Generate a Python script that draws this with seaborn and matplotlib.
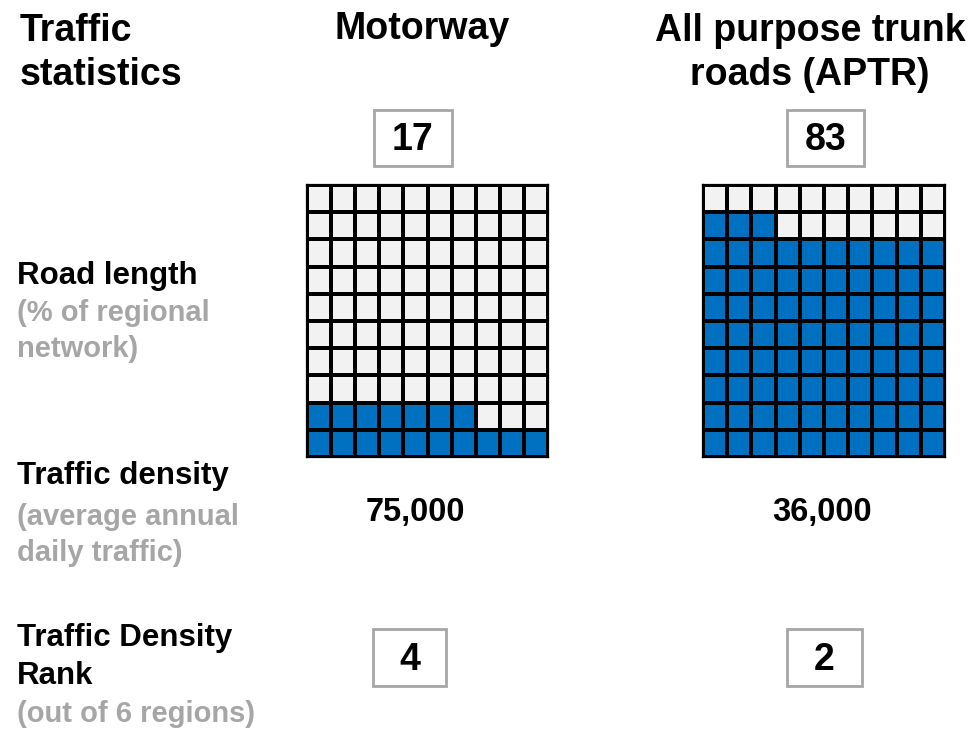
import numpy as np
import pandas as pd
import matplotlib
matplotlib.use("Agg")
import matplotlib.pyplot as plt
from matplotlib.colors import ListedColormap
from matplotlib.patches import Rectangle
import seaborn as sns

sns.set_theme(style="white")
plt.rcParams['font.family'] = ['Liberation Sans', 'DejaVu Sans']

# ---- data ----
road_types = ["Motorway", "All purpose trunk\nroads (APTR)"]
road_length_pct = [17, 83]
traffic_density = ["75,000", "36,000"]
density_rank = [4, 2]
row_titles = ["Road length", "Traffic density", "Traffic Density\nRank"]
row_subtitles = ["(% of regional\nnetwork)", "(average annual\ndaily traffic)", "(out of 6 regions)"]
header = "Traffic\nstatistics"

BLUE = "#0070C0"
EMPTY = "#F2F2F2"
GREY = "#A6A6A6"

W, H = 974, 731
fig = plt.figure(figsize=(W / 100, H / 100), dpi=100)
ov = fig.add_axes([0, 0, 1, 1])
ov.set_xlim(0, W)
ov.set_ylim(H, 0)
ov.axis("off")

def waffle_grid(pct):
    g = np.zeros((10, 10), dtype=int)
    for k in range(pct):
        r = 9 - k // 10
        c = k % 10
        g[r, c] = 1
    return pd.DataFrame(g)

waffle_boxes = [(307, 185, 241, 272), (703, 185, 242, 272)]
for (x, y, w, h), pct in zip(waffle_boxes, road_length_pct):
    ax = fig.add_axes([x / W, 1 - (y + h) / H, w / W, h / H])
    sns.heatmap(waffle_grid(pct), ax=ax, cmap=ListedColormap([EMPTY, BLUE]),
                vmin=0, vmax=1, cbar=False, linewidths=1.5, linecolor="black",
                xticklabels=False, yticklabels=False, square=False)
    for s in ax.spines.values():
        s.set_visible(True)
        s.set_color("black")
        s.set_linewidth(1.6)

# header texts
ov.text(20, 53, header, fontsize=27, fontweight="bold", ha="left", va="center",
        linespacing=1.3, color="black")
col_x = [422, 810]
for cx, name in zip(col_x, road_types):
    ov.text(cx, 53 if "\n" in name else 29, name, fontsize=27, fontweight="bold",
            ha="center", va="center", linespacing=1.3, color="black")

# row labels
title_y = [276, 476, 657]
sub_y = [331, 535, 714]
for ty, sy, t, s in zip(title_y, sub_y, row_titles, row_subtitles):
    ov.text(17, ty, t, fontsize=22.5, fontweight="bold", ha="left", va="center",
            linespacing=1.37, color="black")
    ov.text(17, sy, s, fontsize=21, fontweight="bold", ha="left", va="center",
            linespacing=1.4, color=GREY)

# boxed road length numbers
pct_boxes = [(374, 110, 78, 56), (787, 110, 77, 56)]
for (x, y, w, h), v in zip(pct_boxes, road_length_pct):
    ov.add_patch(Rectangle((x, y), w, h, fill=False, edgecolor=GREY, linewidth=2))
    ov.text(x + w / 2, y + h / 2 + 2, str(v), fontsize=27, fontweight="bold",
            ha="center", va="center", color="black")

# traffic density values
dens_x = [415, 822]
for cx, v in zip(dens_x, traffic_density):
    ov.text(cx, 513, v, fontsize=23.5, fontweight="bold", ha="center", va="center",
            color="black")

# rank boxes
rank_boxes = [(373, 629, 73, 57), (787, 629, 75, 57)]
for (x, y, w, h), v in zip(rank_boxes, density_rank):
    ov.add_patch(Rectangle((x, y), w, h, fill=False, edgecolor=GREY, linewidth=2))
    ov.text(x + w / 2, y + h / 2 + 2, str(v), fontsize=27, fontweight="bold",
            ha="center", va="center", color="black")

fig.savefig("out.png", dpi=100)
